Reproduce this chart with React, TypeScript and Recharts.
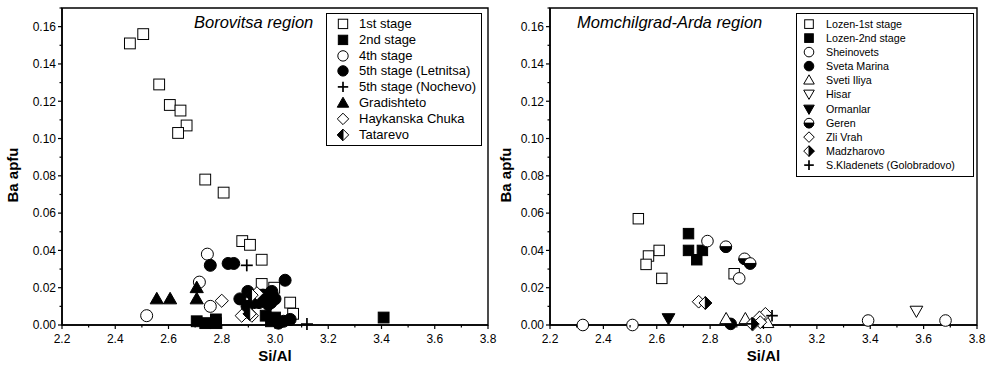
import React from "react"
import { ScatterChart, Scatter, XAxis, YAxis, ReferenceArea, Legend, Label } from "recharts"

const FONT = "'Liberation Sans', Arial, Helvetica, sans-serif"

// axis ticks, shared by both panels
const xTicks = [2.2, 2.3, 2.4, 2.5, 2.6, 2.7, 2.8, 2.9, 3.0, 3.1, 3.2, 3.3, 3.4, 3.5, 3.6, 3.7, 3.8]
const yTicks = [0, 0.01, 0.02, 0.03, 0.04, 0.05, 0.06, 0.07, 0.08, 0.09, 0.1, 0.11, 0.12, 0.13, 0.14, 0.15, 0.16, 0.17]

// Borovitsa region: [Si/Al, Ba apfu]
const stage1 = [
  [2.455, 0.151], [2.505, 0.156], [2.565, 0.129], [2.605, 0.118], [2.645, 0.115],
  [2.668, 0.107], [2.636, 0.103], [2.738, 0.078], [2.807, 0.071], [2.877, 0.045],
  [2.906, 0.043], [2.95, 0.035], [2.95, 0.022], [2.997, 0.02], [3.057, 0.012], [3.068, 0.006],
]
const stage2 = [
  [2.706, 0.002], [2.738, 0.001], [2.778, 0.003], [2.778, 0.001], [2.965, 0.005],
  [2.985, 0.002], [3.0, 0.004], [3.408, 0.004],
]
const stage4 = [[2.518, 0.005], [2.746, 0.038], [2.716, 0.023], [2.757, 0.01]]
const letnitsa = [
  [2.757, 0.032], [2.824, 0.033], [2.845, 0.033], [2.868, 0.014], [2.898, 0.018],
  [2.895, 0.01], [2.895, 0.007], [2.92, 0.012], [2.94, 0.012], [2.955, 0.016],
  [2.965, 0.013], [2.975, 0.011], [2.988, 0.018], [2.985, 0.012], [3.0, 0.014],
  [3.038, 0.024], [3.013, 0.001], [3.032, 0.002], [3.057, 0.003],
]
const nochevo = [[2.894, 0.032], [3.12, 0.0005]]
const gradishteto = [[2.556, 0.014], [2.606, 0.014], [2.706, 0.02], [2.706, 0.014]]
const haykanska = [[2.8, 0.013], [2.875, 0.005], [2.913, 0.005], [2.932, 0.017]]
const tatarevo = [[2.912, 0.016], [2.905, 0.006]]

// Momchilgrad-Arda region: [Si/Al, Ba apfu]
const lozen1 = [[2.531, 0.057], [2.609, 0.04], [2.569, 0.037], [2.56, 0.0325], [2.619, 0.025], [2.89, 0.0275]]
const lozen2 = [[2.719, 0.049], [2.719, 0.04], [2.771, 0.04], [2.75, 0.035]]
const sheinovets = [[2.79, 0.045], [2.909, 0.025], [2.323, 0], [2.509, 0], [3.392, 0.0024], [3.682, 0.0024]]
const svetaMarina = [[2.877, 0.0006]]
const svetiIliya = [[2.86, 0.0033], [2.932, 0.0033], [2.983, 0.0037], [3.015, 0.0012]]
const hisar = [[3.573, 0.0075]]
const ormanlar = [[2.644, 0.0035]]
const geren = [[2.859, 0.042], [2.929, 0.0355], [2.95, 0.033]]
const zliVrah = [[2.757, 0.0125], [3.007, 0.006], [2.985, 0.004], [2.988, 0.0015], [2.96, 0.0004]]
const madzharovo = [[2.782, 0.0118], [2.957, 0.0006]]
const kladenets = [[3.032, 0.005], [2.957, 0.0006]]

type Kind =
  | "square" | "squareFill" | "circle" | "circleFill" | "circleHalf" | "plus"
  | "triUp" | "triUpFill" | "triDown" | "triDownFill" | "diamond" | "diamondLeft" | "diamondRight"

type Series = { name: string; kind: Kind; data: number[][] }

const borovitsa: Series[] = [
  { name: "1st stage", kind: "square", data: stage1 },
  { name: "2nd stage", kind: "squareFill", data: stage2 },
  { name: "4th stage", kind: "circle", data: stage4 },
  { name: "5th stage (Letnitsa)", kind: "circleFill", data: letnitsa },
  { name: "5th stage (Nochevo)", kind: "plus", data: nochevo },
  { name: "Gradishteto", kind: "triUpFill", data: gradishteto },
  { name: "Haykanska Chuka", kind: "diamond", data: haykanska },
  { name: "Tatarevo", kind: "diamondLeft", data: tatarevo },
]

const momchilgrad: Series[] = [
  { name: "Lozen-1st stage", kind: "square", data: lozen1 },
  { name: "Lozen-2nd stage", kind: "squareFill", data: lozen2 },
  { name: "Sheinovets", kind: "circle", data: sheinovets },
  { name: "Sveta Marina", kind: "circleFill", data: svetaMarina },
  { name: "Sveti Iliya", kind: "triUp", data: svetiIliya },
  { name: "Hisar", kind: "triDown", data: hisar },
  { name: "Ormanlar", kind: "triDownFill", data: ormanlar },
  { name: "Geren", kind: "circleHalf", data: geren },
  { name: "Zli Vrah", kind: "diamond", data: zliVrah },
  { name: "Madzharovo", kind: "diamondRight", data: madzharovo },
  { name: "S.Kladenets (Golobradovo)", kind: "plus", data: kladenets },
]

const toPoints = (rows: number[][]) => rows.map(([x, y]) => ({ x, y }))

function Mark({ kind, cx, cy, r }: { kind: Kind; cx: number; cy: number; r: number }) {
  const line = { stroke: "#000", strokeWidth: 1 }
  const tri = (up: boolean) => {
    const h = r * 1.1
    return up
      ? `${cx},${cy - h} ${cx + h},${cy + h * 0.75} ${cx - h},${cy + h * 0.75}`
      : `${cx},${cy + h} ${cx + h},${cy - h * 0.75} ${cx - h},${cy - h * 0.75}`
  }
  const d = r * 1.1
  const diamond = `${cx},${cy - d} ${cx + d},${cy} ${cx},${cy + d} ${cx - d},${cy}`
  switch (kind) {
    case "square":
    case "squareFill": {
      const s = r * 0.9
      return <rect x={cx - s} y={cy - s} width={2 * s} height={2 * s} fill={kind === "square" ? "#fff" : "#000"} {...line} />
    }
    case "circle":
      return <circle cx={cx} cy={cy} r={r} fill="#fff" {...line} />
    case "circleFill":
      return <circle cx={cx} cy={cy} r={r} fill="#000" {...line} />
    case "circleHalf":
      return (
        <g>
          <circle cx={cx} cy={cy} r={r} fill="#fff" {...line} />
          <path d={`M${cx - r},${cy} A${r},${r} 0 0 0 ${cx + r},${cy} Z`} fill="#000" {...line} />
        </g>
      )
    case "plus":
      return (
        <g stroke="#000" strokeWidth={1.7}>
          <line x1={cx - r} x2={cx + r} y1={cy} y2={cy} />
          <line x1={cx} x2={cx} y1={cy - r} y2={cy + r} />
        </g>
      )
    case "triUp":
    case "triUpFill":
      return <polygon points={tri(true)} fill={kind === "triUp" ? "#fff" : "#000"} {...line} />
    case "triDown":
    case "triDownFill":
      return <polygon points={tri(false)} fill={kind === "triDown" ? "#fff" : "#000"} {...line} />
    case "diamond":
      return <polygon points={diamond} fill="#fff" {...line} />
    case "diamondLeft":
      return (
        <g>
          <polygon points={diamond} fill="#fff" {...line} />
          <polygon points={`${cx},${cy - d} ${cx},${cy + d} ${cx - d},${cy}`} fill="#000" {...line} />
        </g>
      )
    case "diamondRight":
      return (
        <g>
          <polygon points={diamond} fill="#fff" {...line} />
          <polygon points={`${cx},${cy - d} ${cx + d},${cy} ${cx},${cy + d}`} fill="#000" {...line} />
        </g>
      )
  }
  return null
}

function XTick({ x, y, payload }: any) {
  const v = payload.value as number
  const major = Math.round(v * 10) % 2 === 0
  return (
    <g>
      <line x1={x} x2={x} y1={y} y2={y + (major ? 4 : 2.5)} stroke="#000" strokeWidth={1.2} />
      {major && (
        <text x={x} y={y + 18} textAnchor="middle" fontSize={12} fontFamily={FONT} fill="#000">
          {v.toFixed(1)}
        </text>
      )}
    </g>
  )
}

function YTick({ x, y, payload }: any) {
  const v = payload.value as number
  const major = Math.round(v * 100) % 2 === 0
  return (
    <g>
      <line x1={x} x2={x - (major ? 4 : 2.5)} y1={y} y2={y} stroke="#000" strokeWidth={1.2} />
      {major && (
        <text x={x - 6} y={y + 4.3} textAnchor="end" fontSize={12} fontFamily={FONT} fill="#000">
          {v.toFixed(2)}
        </text>
      )}
    </g>
  )
}

function LegendBox({ series, rowH, symX, textX, fontSize, r, width, padTop }: {
  series: Series[]; rowH: number; symX: number; textX: number; fontSize: number; r: number; width: number; padTop: number
}) {
  return (
    <div
      style={{
        width,
        boxSizing: "border-box",
        border: "1.5px solid #000",
        background: "#fff",
        paddingTop: padTop,
        paddingBottom: 3,
        fontFamily: FONT,
        fontSize,
        color: "#000",
      }}
    >
      {series.map((s) => (
        <div key={s.name} style={{ position: "relative", height: rowH, lineHeight: `${rowH}px`, whiteSpace: "nowrap" }}>
          <svg width={18} height={rowH} style={{ position: "absolute", left: symX - 9, top: 0, overflow: "visible" }}>
            <Mark kind={s.kind} cx={9} cy={rowH / 2} r={r} />
          </svg>
          <span style={{ position: "absolute", left: textX }}>{s.name}</span>
        </div>
      ))}
    </div>
  )
}

type PanelProps = {
  series: Series[]; title: string; titleLeft: number; left: number; width: number; yAxisWidth: number
  marginRight: number; markR: number; yTitleX: number; legendLeft: number; legendTop: number; legend: React.ReactNode
}

function Panel({ series, title, titleLeft, left, width, yAxisWidth, marginRight, markR, yTitleX, legendLeft, legendTop, legend }: PanelProps) {
  return (
    <div style={{ position: "absolute", left, top: 0, width, height: 368 }}>
      <ScatterChart width={width} height={368} margin={{ top: 8, right: marginRight, bottom: 3, left: 0 }}>
        <XAxis
          type="number"
          dataKey="x"
          domain={[2.2, 3.8]}
          ticks={xTicks}
          interval={0}
          tickSize={0}
          tickMargin={0}
          tick={<XTick />}
          height={40}
          axisLine={{ stroke: "#000", strokeWidth: 1.6 }}
        >
          <Label
            content={({ viewBox }: any) => (
              <text
                x={viewBox.x + viewBox.width / 2}
                y={viewBox.y + 36}
                textAnchor="middle"
                fontSize={15}
                fontWeight="bold"
                fontFamily={FONT}
              >
                Si/Al
              </text>
            )}
          />
        </XAxis>
        <YAxis
          type="number"
          dataKey="y"
          domain={[0, 0.17]}
          ticks={yTicks}
          interval={0}
          tickSize={0}
          tickMargin={0}
          tick={<YTick />}
          width={yAxisWidth}
          axisLine={{ stroke: "#000", strokeWidth: 1.6 }}
        >
          <Label
            content={({ viewBox }: any) => (
              <text
                transform={`translate(${viewBox.x + yTitleX}, 175) rotate(-90)`}
                textAnchor="middle"
                fontSize={15}
                fontWeight="bold"
                fontFamily={FONT}
              >
                Ba apfu
              </text>
            )}
          />
        </YAxis>
        <ReferenceArea x1={2.2} x2={3.8} y1={0} y2={0.17} fill="none" stroke="#000" strokeWidth={1.4} />
        {series.map((s) => (
          <Scatter
            key={s.name}
            name={s.name}
            data={toPoints(s.data)}
            isAnimationActive={false}
            shape={(p: any) => <Mark kind={s.kind} cx={p.cx} cy={p.cy} r={markR} />}
          />
        ))}
        <Legend
          layout="vertical"
          align="center"
          verticalAlign="middle"
          wrapperStyle={{ left: legendLeft, top: legendTop, width: "auto", height: "auto" }}
          content={() => legend}
        />
      </ScatterChart>
      <div
        style={{
          position: "absolute",
          left: titleLeft,
          top: 12,
          fontFamily: FONT,
          fontStyle: "italic",
          fontSize: 16.5,
          lineHeight: "20px",
          whiteSpace: "nowrap",
        }}
      >
        {title}
      </div>
    </div>
  )
}

export default function App() {
  return (
    <div style={{ position: "absolute", left: 0, top: 0, width: 989, height: 368, background: "#fff" }}>
      {/* left panel is a bit wider than its slot so the last x label is not clipped */}
      <Panel
        series={borovitsa}
        title="Borovitsa region"
        titleLeft={194}
        left={0}
        width={502}
        yAxisWidth={62}
        marginRight={14}
        markR={6}
        yTitleX={18}
        legendLeft={326}
        legendTop={13}
        legend={<LegendBox series={borovitsa} rowH={15.8} symX={16} textX={32} fontSize={13} r={5.2} width={156} padTop={2} />}
      />
      <Panel
        series={momchilgrad}
        title="Momchilgrad-Arda region"
        titleLeft={83}
        left={494}
        width={495}
        yAxisWidth={56}
        marginRight={12}
        markR={5.8}
        yTitleX={17}
        legendLeft={302}
        legendTop={13}
        legend={<LegendBox series={momchilgrad} rowH={14.2} symX={12} textX={29} fontSize={10.7} r={4.8} width={178} padTop={2.5} />}
      />
    </div>
  )
}
